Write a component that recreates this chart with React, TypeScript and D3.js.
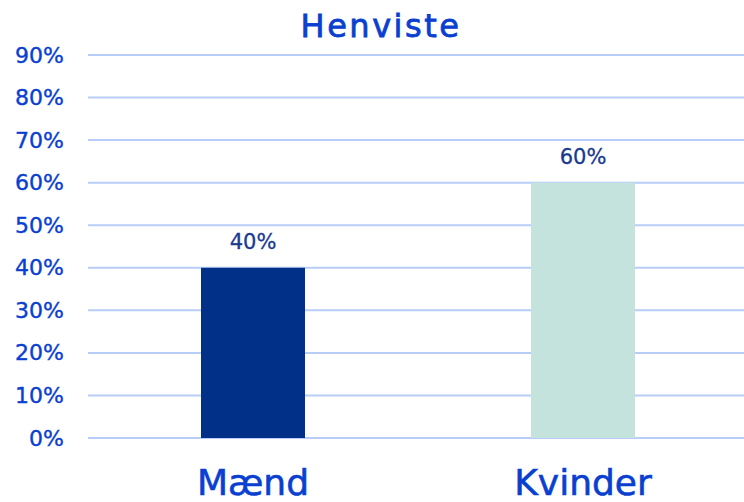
import { useMemo } from "react";
import * as d3 from "d3";

const WIDTH = 744;
const HEIGHT = 502;

const categories = ["Mænd", "Kvinder"];
const values = [40, 60];
const barColors = ["#003087", "#c5e3dd"];
const yTicks = [0, 10, 20, 30, 40, 50, 60, 70, 80, 90];
const title = "Henviste";

const FONT = "'DejaVu Sans', sans-serif";

export default function App() {
  // x band spans the plot area, bars are narrow inside each band
  const xScale = useMemo(
    () => d3.scaleBand<string>().domain(categories).range([88, 748]).padding(0),
    []
  );
  const yScale = useMemo(
    () => d3.scaleLinear().domain([0, 90]).range([438, 55]),
    []
  );
  const barWidth = 104;

  const grid = yTicks.map((t) => (
    <g key={t}>
      <line
        x1={88}
        x2={WIDTH}
        y1={yScale(t)}
        y2={yScale(t)}
        stroke="#b8cdf8"
        strokeWidth={2}
      />
      <text
        x={64}
        y={yScale(t)}
        textAnchor="end"
        dominantBaseline="central"
        fontSize={22}
        fill="#0a3fd0"
        stroke="#0a3fd0"
        strokeWidth={0.4}
        fontFamily={FONT}
      >
        {t}%
      </text>
    </g>
  ));

  const bars = categories.map((c, i) => {
    const cx = (xScale(c) ?? 0) + xScale.bandwidth() / 2;
    const y = yScale(values[i]);
    return (
      <g key={c}>
        <rect
          x={cx - barWidth / 2}
          y={y}
          width={barWidth}
          height={yScale(0) - y}
          fill={barColors[i]}
        />
        <text
          x={cx}
          y={y - 26}
          textAnchor="middle"
          dominantBaseline="central"
          fontSize={21}
          fill="#1a3a8f"
          stroke="#1a3a8f"
          strokeWidth={0.3}
          fontFamily={FONT}
        >
          {values[i]}%
        </text>
        <text
          x={cx}
          y={495}
          textAnchor="middle"
          fontSize={36}
          fill="#0a3fd0"
          stroke="#0a3fd0"
          strokeWidth={0.6}
          fontFamily={FONT}
        >
          {c}
        </text>
      </g>
    );
  });

  return (
    <svg
      width={WIDTH}
      height={HEIGHT}
      style={{ position: "absolute", left: 0, top: 0, background: "#fff" }}
    >
      {grid}
      {bars}
      <text
        x={381}
        y={26}
        textAnchor="middle"
        dominantBaseline="central"
        fontSize={32}
        letterSpacing={2.5}
        fill="#0a3fd0"
        stroke="#0a3fd0"
        strokeWidth={0.8}
        fontFamily={FONT}
      >
        {title}
      </text>
    </svg>
  );
}
